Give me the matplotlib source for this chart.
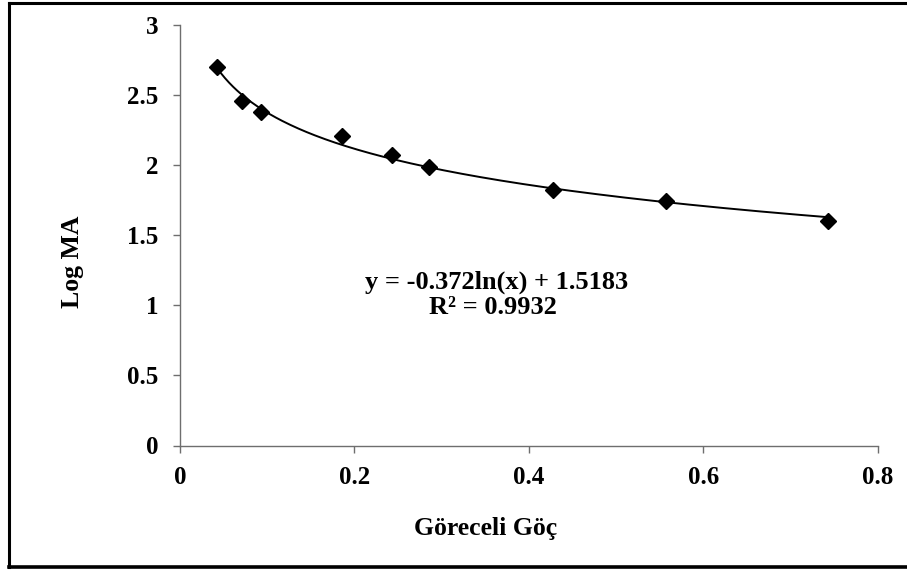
import numpy as np
import matplotlib
matplotlib.use("Agg")
import matplotlib.pyplot as plt
from matplotlib.lines import Line2D

# ---- data ----
x_vals = [0.0421, 0.0707, 0.0925, 0.1854, 0.2427, 0.2855, 0.428, 0.557, 0.743]
y_vals = [2.70, 2.46, 2.38, 2.207, 2.07, 1.99, 1.82, 1.741, 1.599]
fit_a = -0.372
fit_b = 1.5183
r2 = 0.9932
x_ticks = [0, 0.2, 0.4, 0.6, 0.8]
x_tick_labels = ["0", "0.2", "0.4", "0.6", "0.8"]
y_ticks = [0, 0.5, 1, 1.5, 2, 2.5, 3]
y_tick_labels = ["0", "0.5", "1", "1.5", "2", "2.5", "3"]
x_label = "Göreceli Göç"
y_label = "Log MA"

plt.rcParams['font.family'] = ['Liberation Serif', 'DejaVu Serif']
plt.rcParams['font.weight'] = 'bold'

W, H = 907, 572
fig = plt.figure(figsize=(W / 100, H / 100), dpi=100)
ax = fig.add_axes([180 / W, 1 - 445.5 / H, (877.7 - 180) / W, (445.5 - 25) / H])

# trendline
xs = np.linspace(min(x_vals), max(x_vals), 300)
ax.plot(xs, fit_a * np.log(xs) + fit_b, color='black', lw=1.4, zorder=2)
# points
ax.plot(x_vals, y_vals, linestyle='none', marker='D', ms=8.2,
        color='black', zorder=3, clip_on=False)

ax.set_xlim(0, 0.8)
ax.set_ylim(0, 3)
ax.set_xticks(x_ticks)
ax.set_xticklabels(x_tick_labels)
ax.set_yticks(y_ticks)
ax.set_yticklabels(y_tick_labels)

for s in ['top', 'right']:
    ax.spines[s].set_visible(False)
for s in ['left', 'bottom']:
    ax.spines[s].set_color('#6e6e6e')
    ax.spines[s].set_linewidth(1.0)

ax.tick_params(axis='both', direction='out', length=5, width=1.0,
               color='#6e6e6e', labelsize=18)
ax.tick_params(axis='y', pad=10.5)
ax.tick_params(axis='x', pad=9.5)
for lab in ax.get_xticklabels() + ax.get_yticklabels():
    lab.set_fontweight('bold')

fig.text(486 / W, 1 - 528 / H, x_label, ha='center', va='center',
         fontsize=18.5, fontweight='bold')
fig.text(72 / W, 1 - 262 / H, y_label, ha='center', va='center',
         rotation=90, fontsize=18.5, fontweight='bold')

fig.text(497 / W, 1 - 282 / H, f"y = {fit_a}ln(x) + {fit_b}",
         ha='center', va='center', fontsize=19, fontweight='bold')
fig.text(493 / W, 1 - 308 / H, f"R² = {r2}",
         ha='center', va='center', fontsize=19, fontweight='bold')

# outer border
fig.add_artist(Line2D([8.5 / W, 8.5 / W], [1 - 2.5 / H, 1 - 567 / H],
                      transform=fig.transFigure, color='black', lw=2.2))
fig.add_artist(Line2D([8.5 / W, 1.0], [1 - 2.5 / H, 1 - 2.5 / H],
                      transform=fig.transFigure, color='black', lw=2.2))
fig.add_artist(Line2D([8.5 / W, 1.0], [1 - 567 / H, 1 - 567 / H],
                      transform=fig.transFigure, color='black', lw=2.6))

fig.savefig("out.png", dpi=100)
